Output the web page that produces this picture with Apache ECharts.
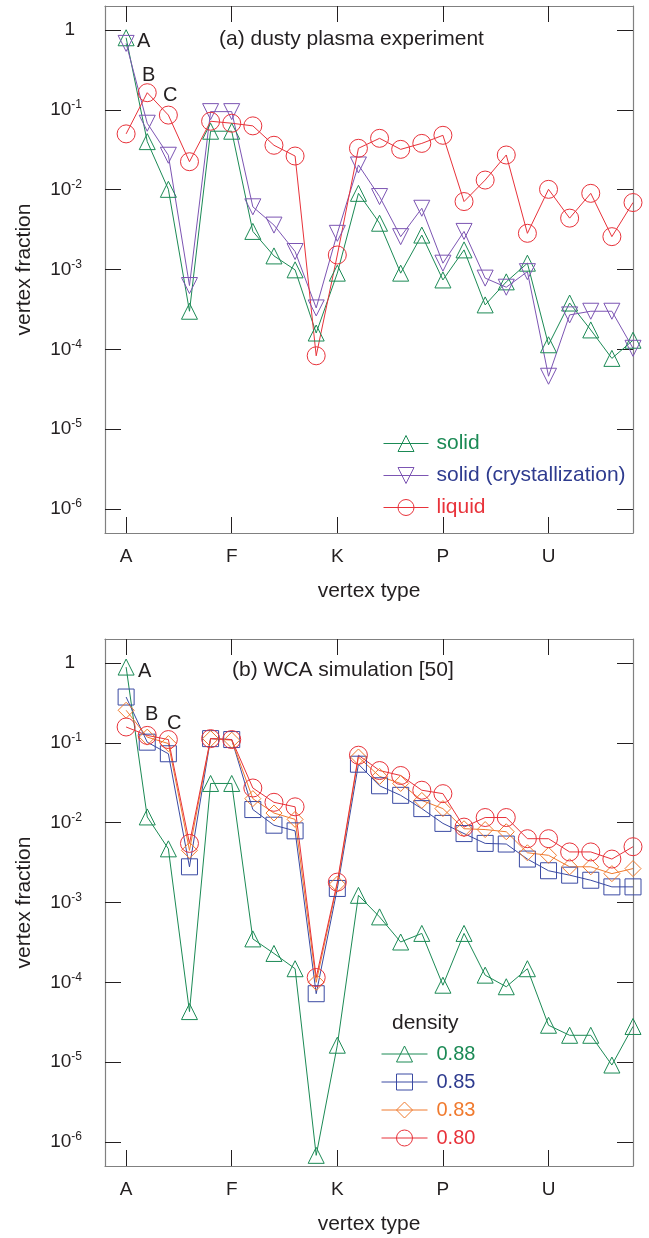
<!DOCTYPE html>
<html>
<head>
<meta charset="utf-8">
<script src="https://cdn.jsdelivr.net/npm/echarts@6/dist/echarts.min.js"></script>
<style>
html,body{margin:0;padding:0;background:#fff}
#chart{width:649px;height:1238px}
</style>
</head>
<body>
<div id="chart"></div>
<script>
// Vertex types along the x axis and the subset that carries tick labels
const vertexTypes = ['A','B','C','D','E','F','G','H','I','J','K','L','M','N','O','P','Q','R','S','T','U','V','W','X','Y'];
const tickLabels = ['A','F','K','P','U'];
// Decades labelled on the vertical (log) axis
const yTickExponents = [0,-1,-2,-3,-4,-5,-6];

// (a) dusty plasma experiment
const plasmaSolid  = [0.8, 0.040, 0.0101, 3.0e-4, 0.054, 0.054, 0.0030, 0.00148, 0.00099, 1.6e-4, 9e-4, 0.009, 0.0038, 9e-4, 0.0027, 7.4e-4, 0.00176, 3.6e-4, 7e-4, 0.0012, 1.14e-4, 3.8e-4, 1.75e-4, 7.7e-5, 1.3e-4];
const plasmaCryst  = [0.68, 0.068, 0.027, 6.3e-4, 0.095, 0.095, 0.0061, 0.0036, 0.00168, 3.3e-4, 0.00284, 0.0204, 0.0082, 0.00258, 0.00585, 0.0012, 0.0030, 7.8e-4, 6e-4, 9.4e-4, 4.6e-5, 2.7e-4, 3.0e-4, 3.0e-4, 1.03e-4];
const plasmaLiquid = [0.050, 0.164, 0.086, 0.0224, 0.072, 0.068, 0.063, 0.036, 0.0264, 8.3e-5, 0.00152, 0.033, 0.044, 0.032, 0.038, 0.048, 0.0071, 0.0132, 0.0272, 0.00284, 0.0101, 0.0044, 0.009, 0.00258, 0.0069];

// (b) WCA simulation, one list per density
const wca088 = [0.89, 0.0118, 0.0047, 4.3e-5, 0.031, 0.031, 3.5e-4, 2.3e-4, 1.48e-4, 6.8e-7, 1.63e-5, 0.00123, 6.6e-4, 3.2e-4, 4.1e-4, 9.2e-5, 4.1e-4, 1.23e-4, 8.8e-5, 1.48e-4, 2.9e-5, 2.17e-5, 2.17e-5, 9.2e-6, 2.8e-5];
const wca085 = [0.375, 0.102, 0.073, 0.0028, 0.113, 0.11, 0.0146, 0.0093, 0.0079, 7.2e-5, 0.0015, 0.054, 0.029, 0.022, 0.015, 0.0098, 0.0073, 0.0055, 0.0054, 0.0035, 0.0025, 0.0022, 0.0019, 0.00157, 0.00157];
const wca083 = [0.256, 0.118, 0.098, 0.0045, 0.113, 0.108, 0.020, 0.0132, 0.011, 1.0e-4, 0.0017, 0.0665, 0.038, 0.031, 0.019, 0.015, 0.0084, 0.0082, 0.0077, 0.0042, 0.0039, 0.0028, 0.0028, 0.0023, 0.00266];
const wca080 = [0.158, 0.124, 0.11, 0.0055, 0.113, 0.11, 0.0272, 0.018, 0.0158, 1.15e-4, 0.0018, 0.070, 0.045, 0.039, 0.0255, 0.0231, 0.0088, 0.0116, 0.0116, 0.0063, 0.0063, 0.0043, 0.0043, 0.0035, 0.005];

const FONT = '"Liberation Sans", Arial, Helvetica, sans-serif';
const INK = '#231f20';
const FRAME = '#808080';
const GREEN = '#1b8a55';
const PURPLE = '#7c55b3';
const RED = '#e8323a';
const BLUE = '#3a4aa3';
const ORANGE = '#f07a2e';
const BLUE_TEXT = '#2e3b8f';

const xTickValues = tickLabels.map(t => vertexTypes.indexOf(t));
const yTickValues = yTickExponents.map(e => Math.pow(10, e));

function toPoints(values) {
  return values.map((v, i) => [i, v]);
}

function yLabel(v) {
  const e = Math.round(Math.log10(v));
  if (Math.abs(Math.log10(v) - e) > 1e-6) return '';
  if (e === 0) return '{one|1}';
  return '{base|10}{sup|' + e + '}';
}

function xAxis(gridIndex, position, withLabels) {
  return {
    type: 'value', gridIndex, position,
    min: -1, max: vertexTypes.length - 1,
    axisLine: { show: true, onZero: false, lineStyle: { color: FRAME, width: 1.2 } },
    axisTick: { show: true, inside: true, length: 16, customValues: xTickValues, lineStyle: { color: INK, width: 1 } },
    axisLabel: {
      show: withLabels, customValues: xTickValues, margin: 14,
      formatter: v => vertexTypes[v], fontSize: 19, color: INK, fontFamily: FONT
    },
    splitLine: { show: false },
    name: withLabels ? 'vertex type' : '',
    nameLocation: 'middle', nameGap: 48,
    nameTextStyle: { fontSize: 21, color: INK, fontFamily: FONT }
  };
}

function yAxis(gridIndex, position, withLabels) {
  return {
    type: 'log', logBase: 10, gridIndex, position,
    min: 5e-7, max: 2,
    axisLine: { show: true, onZero: false, lineStyle: { color: FRAME, width: 1.2 } },
    axisTick: { show: true, inside: true, length: 16, customValues: yTickValues, lineStyle: { color: INK, width: 1 } },
    axisLabel: {
      show: withLabels, customValues: yTickValues, margin: 23, align: 'right',
      formatter: yLabel, color: INK, fontFamily: FONT,
      rich: {
        one: { fontSize: 19, fontFamily: FONT, color: INK, padding: [0, 7, 0, 0] },
        base: { fontSize: 19, fontFamily: FONT, color: INK },
        sup: { fontSize: 12, fontFamily: FONT, color: INK, padding: [0, 0, 10, 0] }
      }
    },
    splitLine: { show: false },
    name: withLabels ? 'vertex fraction' : '',
    nameLocation: 'middle', nameGap: 70,
    nameTextStyle: { fontSize: 21, color: INK, fontFamily: FONT }
  };
}

function lineSeries(name, values, axisIdx, color, symbol, size, rotate) {
  return {
    type: 'line', name,
    xAxisIndex: axisIdx, yAxisIndex: axisIdx,
    data: toPoints(values),
    symbol, symbolSize: size, symbolRotate: rotate || 0,
    showAllSymbol: true,
    lineStyle: { color, width: 1 },
    itemStyle: { color: 'rgba(255,255,255,0)', borderColor: color, borderWidth: 1 },
    emphasis: { disabled: true },
    animation: false
  };
}

const labelText = (text, x, y, size) => ({
  type: 'text', left: x, top: y,
  style: { text, fontSize: size, fill: INK, fontFamily: FONT }
});

const legendBase = {
  orient: 'vertical', selectedMode: false,
  itemWidth: 45, itemHeight: 20,
  lineStyle: { width: 1 },
  itemStyle: { borderWidth: 1 }
};

const option = {
  backgroundColor: '#fff',
  animation: false,
  grid: [
    { left: 105, top: 6, width: 528, height: 527 },
    { left: 105, top: 639, width: 528, height: 527 }
  ],
  xAxis: [xAxis(0, 'bottom', true), xAxis(0, 'top', false), xAxis(1, 'bottom', true), xAxis(1, 'top', false)],
  yAxis: [yAxis(0, 'left', true), yAxis(0, 'right', false), yAxis(1, 'left', true), yAxis(1, 'right', false)],
  legend: [
    Object.assign({}, legendBase, {
      left: 378, top: 428, itemGap: 11,
      textStyle: { fontSize: 21, fontFamily: FONT, padding: [0, 0, 0, 3] },
      data: [
        { name: 'solid', textStyle: { color: GREEN } },
        { name: 'solid (crystallization)', textStyle: { color: BLUE_TEXT } },
        { name: 'liquid', textStyle: { color: RED } }
      ]
    }),
    Object.assign({}, legendBase, {
      left: 376, top: 1039, itemWidth: 46, itemGap: 8,
      textStyle: { fontSize: 20, fontFamily: FONT, padding: [0, 0, 0, 4] },
      data: [
        { name: '0.88', textStyle: { color: GREEN } },
        { name: '0.85', textStyle: { color: BLUE_TEXT } },
        { name: '0.83', textStyle: { color: ORANGE } },
        { name: '0.80', textStyle: { color: RED } }
      ]
    })
  ],
  graphic: [
    labelText('(a) dusty plasma experiment', 219, 29, 21),
    labelText('A', 137, 31, 20),
    labelText('B', 142, 65, 20),
    labelText('C', 163, 85, 20),
    labelText('(b) WCA simulation [50]', 232, 660, 21),
    labelText('A', 138, 661, 20),
    labelText('B', 145, 704, 20),
    labelText('C', 167, 713, 20),
    labelText('density', 392, 1013, 21)
  ],
  series: [
    lineSeries('solid', plasmaSolid, 0, GREEN, 'triangle', 16),
    lineSeries('solid (crystallization)', plasmaCryst, 0, PURPLE, 'triangle', 16, 180),
    lineSeries('liquid', plasmaLiquid, 0, RED, 'circle', 18),
    lineSeries('0.88', wca088, 2, GREEN, 'triangle', 16),
    lineSeries('0.85', wca085, 2, BLUE, 'rect', 16),
    lineSeries('0.83', wca083, 2, ORANGE, 'diamond', 16),
    lineSeries('0.80', wca080, 2, RED, 'circle', 18)
  ]
};

const chart = echarts.init(document.getElementById('chart'), null, { renderer: 'canvas' });
chart.setOption(option);
</script>
</body>
</html>
